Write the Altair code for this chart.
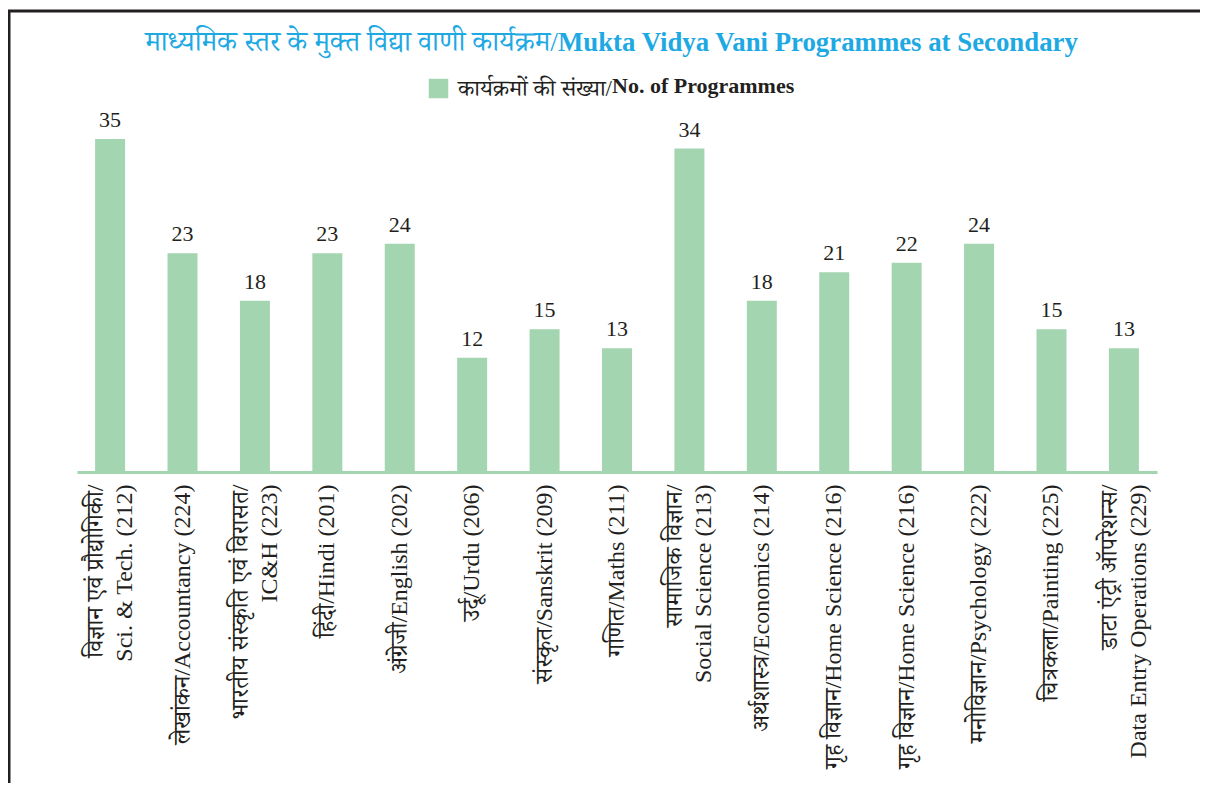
import altair as alt
import pandas as pd

categories = [
    "विज्ञान एवं प्रौद्योगिकी/|Sci. & Tech. (212)",
    "लेखांकन/Accountancy (224)",
    "भारतीय संस्कृति एवं विरासत/|IC&H (223)",
    "हिंदी/Hindi (201)",
    "अंग्रेजी/English (202)",
    "उर्दू/Urdu (206)",
    "संस्कृत/Sanskrit (209)",
    "गणित/Maths (211)",
    "सामाजिक विज्ञान/|Social Science (213)",
    "अर्थशास्त्र/Economics (214)",
    "गृह विज्ञान/Home Science (216)",
    "गृह विज्ञान/Home Science (216)\u200b",
    "मनोविज्ञान/Psychology (222)",
    "चित्रकला/Painting (225)",
    "डाटा एंट्री ऑपरेशन्स/|Data Entry Operations (229)",
]
values = [35, 23, 18, 23, 24, 12, 15, 13, 34, 18, 21, 22, 24, 15, 13]
series_hi = "कार्यक्रमों की संख्या/"
series_en = "No. of Programmes"
title_hi = "माध्यमिक स्तर के मुक्त विद्या वाणी कार्यक्रम/"
title_en = "Mukta Vidya Vani Programmes at Secondary"

BAR = "#a3d5b0"
TXT = "#231f20"
CYAN = "#1ea9e3"
FONT = "Liberation Serif, Noto Serif Devanagari, Lohit Devanagari, serif"

df = pd.DataFrame({"cat": categories, "val": values, "s": [series_hi] * len(values)})

W, H = 1080, 352

base = alt.Chart(df).encode(
    x=alt.X(
        "cat:N",
        sort=None,
        scale=alt.Scale(paddingInner=0.586, paddingOuter=0.25),
        axis=alt.Axis(
            title=None,
            labelAngle=270,
            labelExpr="split(datum.label, '|')",
            labelFont=FONT,
            labelFontSize=24,
            labelColor=TXT,
            labelLineHeight=29,
            labelPadding=12,
            labelOffset={
                "condition": {"test": "indexof(datum.label, '|') >= 0", "value": -14},
                "value": 0,
            },
            labelLimit=0,
            ticks=False,
            domainColor=BAR,
            domainWidth=3,
        ),
    ),
    y=alt.Y("val:Q", scale=alt.Scale(domain=[0, 37], nice=False), axis=None),
)

bars = base.mark_bar().encode(
    color=alt.Color(
        "s:N",
        scale=alt.Scale(range=[BAR]),
        legend=alt.Legend(
            title=None,
            orient="none",
            legendX=350,
            legendY=-43,
            symbolType="square",
            symbolSize=380,
            symbolStrokeWidth=0,
            labelFont=FONT,
            labelFontSize=23,
            labelColor=TXT,
            labelOffset=8,
            labelLimit=0,
            padding=0,
        ),
    )
)

labels = base.mark_text(
    font=FONT, fontSize=22, color=TXT, baseline="alphabetic", dy=-12
).encode(text="val:Q")

tdf = pd.DataFrame({"hi": [title_hi], "en": [title_en], "lh": [series_en]})
t_hi = alt.Chart(tdf).mark_text(
    font=FONT, fontSize=28, color=CYAN, align="right", baseline="alphabetic"
).encode(text="hi:N", x=alt.value(481), y=alt.value(-69))
t_en = alt.Chart(tdf).mark_text(
    font=FONT, fontSize=26.8, fontWeight="bold", color=CYAN, align="left", baseline="alphabetic"
).encode(text="en:N", x=alt.value(481), y=alt.value(-69))
leg_en = alt.Chart(tdf).mark_text(
    font=FONT, fontSize=22, fontWeight="bold", color=TXT, align="left", baseline="middle"
).encode(text="lh:N", x=alt.value(535), y=alt.value(-34))

frame_top = alt.Chart(tdf).mark_rule(color="#231f20", strokeWidth=3).encode(
    x=alt.value(-69), x2=alt.value(1123), y=alt.value(-109)
)
frame_left = alt.Chart(tdf).mark_rule(color="#231f20", strokeWidth=3).encode(
    x=alt.value(-68), y=alt.value(-110), y2=alt.value(663)
)

chart = alt.layer(bars, labels, t_hi, t_en, leg_en, frame_top, frame_left).properties(
    width=W,
    height=H,
    autosize=alt.AutoSizeParams(type="none"),
    padding={"left": 69, "top": 112, "right": 43, "bottom": 311},
).configure_view(stroke=None)

chart.save("out.html", embed_options={"renderer": "svg", "actions": False})
